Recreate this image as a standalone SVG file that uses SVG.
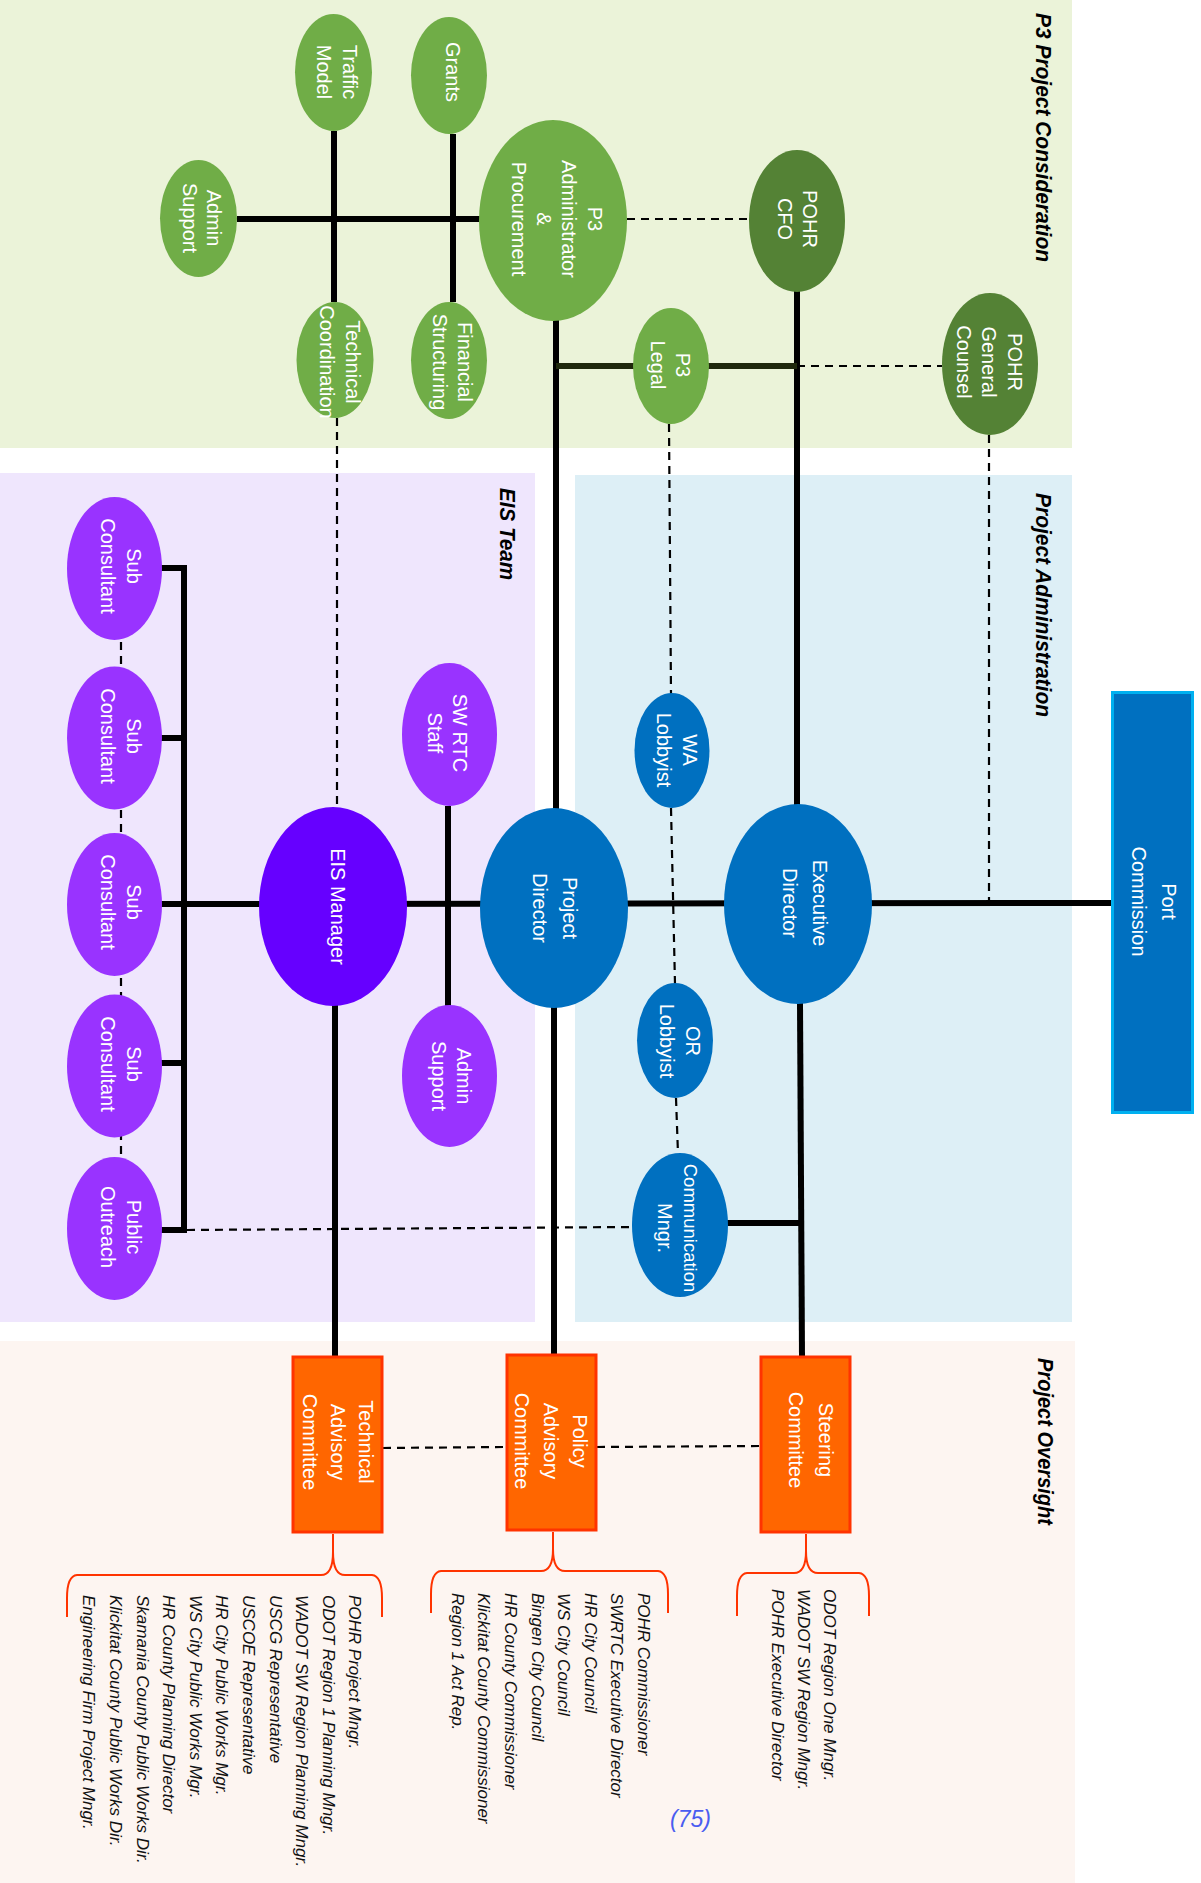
<svg xmlns="http://www.w3.org/2000/svg" width="1201" height="1883" viewBox="0 0 1201 1883">
<style>
.nt{fill:#fff;font-family:"Liberation Sans",Arial,sans-serif;font-size:20px;text-anchor:middle;dominant-baseline:central}
.ttl{fill:#000;font-family:"Liberation Sans",Arial,sans-serif;font-size:22px;font-weight:bold;font-style:italic}
.lst{fill:#111;font-family:"Liberation Sans",Arial,sans-serif;font-size:17px;font-style:italic}
.thick{stroke:#000;stroke-width:6;fill:none}
.dash{stroke:#000;stroke-width:2.2;stroke-dasharray:8 6;fill:none}
.brace{stroke:#ff3300;stroke-width:2;fill:none}
.lg{fill:#70ad47}.dg{fill:#548235}.pu{fill:#9933ff}.bl{fill:#0070c0}
.cm{fill:#ff6600;stroke:#ff3300;stroke-width:3}
</style>
<rect width="1201" height="1883" fill="#fff"/>
<!-- section backgrounds -->
<rect x="0" y="0" width="1072" height="448" fill="#ebf3d9"/>
<rect x="0" y="473" width="535" height="849" fill="#efe6fd"/>
<rect x="575" y="475" width="497" height="847" fill="#ddeff6"/>
<rect x="0" y="1341" width="1075" height="542" fill="#fdf5f1"/>
<text class="ttl" transform="translate(1036,13) rotate(90)" textLength="249" lengthAdjust="spacingAndGlyphs">P3 Project Consideration</text>
<text class="ttl" transform="translate(1036,493) rotate(90)" textLength="224" lengthAdjust="spacingAndGlyphs">Project Administration</text>
<text class="ttl" transform="translate(500,488) rotate(90)" textLength="92" lengthAdjust="spacingAndGlyphs">EIS Team</text>
<text class="ttl" transform="translate(1038,1358) rotate(90)" textLength="167" lengthAdjust="spacingAndGlyphs">Project Oversight</text>

<g id="connectors">
<line class="thick" x1="237" y1="219" x2="480" y2="219"/>
<line class="thick" x1="334" y1="131" x2="334" y2="302"/>
<line class="thick" x1="453" y1="134" x2="453" y2="302"/>
<line class="dash" x1="627" y1="219" x2="749" y2="219"/>
<line class="thick" x1="556" y1="320" x2="556" y2="809"/>
<line class="thick" x1="797" y1="291" x2="797" y2="805"/>
<line stroke="#1f280c" stroke-width="6" x1="556" y1="366" x2="797" y2="366"/>
<line class="dash" x1="797" y1="366" x2="942" y2="366"/>
<line class="dash" x1="337" y1="418" x2="337" y2="808"/>
<line class="dash" x1="669" y1="424" x2="671" y2="694"/>
<line class="dash" x1="671" y1="808" x2="675" y2="984"/>
<line class="dash" x1="676" y1="1098" x2="678" y2="1154"/>
<line class="dash" x1="989" y1="435" x2="989" y2="903"/>
<line class="dash" x1="121" y1="600" x2="121" y2="1200" stroke-dasharray="7 7"/>
<line class="thick" x1="184" y1="565" x2="184" y2="1233"/>
<line class="thick" x1="160" y1="568" x2="187" y2="568"/>
<line class="thick" x1="160" y1="738" x2="187" y2="738"/>
<line class="thick" x1="160" y1="1063" x2="187" y2="1063"/>
<line class="thick" x1="160" y1="1230" x2="187" y2="1230"/>
<line class="thick" x1="160" y1="904" x2="1112" y2="903"/>
<line class="thick" x1="448" y1="806" x2="448" y2="1006"/>
<line class="thick" x1="335" y1="1005" x2="335" y2="1357"/>
<line class="thick" x1="554" y1="1007" x2="554" y2="1355"/>
<line class="thick" x1="800" y1="1003" x2="802" y2="1357"/>
<line class="thick" x1="727" y1="1223" x2="801" y2="1223"/>
<line class="dash" x1="187" y1="1230" x2="633" y2="1227" stroke-dasharray="6 4"/>
<line class="dash" x1="383" y1="1448" x2="506" y2="1447" stroke-dasharray="7 5"/>
<line class="dash" x1="597" y1="1447" x2="760" y2="1446" stroke-dasharray="7 5"/>
<path class="brace" d="M333 1534 V1552 Q333 1575 321 1575 H77 Q67 1576 67 1598 V1617 M333 1552 Q333 1575 345 1575 H372 Q382 1576 382 1598 V1617"/>
<path class="brace" d="M553 1532 V1549 Q553 1571 541 1571 H441 Q431 1572 431 1594 V1613 M553 1549 Q553 1571 565 1571 H658 Q668 1572 668 1594 V1613"/>
<path class="brace" d="M806 1534 V1551 Q806 1573 794 1573 H747 Q737 1574 737 1596 V1616 M806 1551 Q806 1573 818 1573 H859 Q869 1574 869 1596 V1616"/>
</g>

<g id="traffic-model"><ellipse class="lg" cx="333.5" cy="72.5" rx="38.5" ry="58.5"/>
<text class="nt" transform="translate(336.5,72) rotate(90)"><tspan x="0" y="-13">Traffic</tspan><tspan x="0" y="13">Model</tspan></text></g>
<g id="grants"><ellipse class="lg" cx="449" cy="75.5" rx="38" ry="58.5"/>
<text class="nt" transform="translate(452.5,72) rotate(90)"><tspan x="0" y="0">Grants</tspan></text></g>
<g id="admin-support-p3"><ellipse class="lg" cx="198.5" cy="218.5" rx="38.5" ry="58.5"/>
<text class="nt" transform="translate(201.5,218) rotate(90)"><tspan x="0" y="-12">Admin</tspan><tspan x="0" y="12">Support</tspan></text></g>
<g id="p3-administrator"><ellipse class="lg" cx="553" cy="220.5" rx="74" ry="100.5"/>
<text class="nt" transform="translate(556.5,219) rotate(90)"><tspan x="0" y="-38">P3</tspan><tspan x="0" y="-12.6">Administrator</tspan><tspan x="0" y="12.6">&amp;</tspan><tspan x="0" y="38">Procurement</tspan></text></g>
<g id="pohr-cfo"><ellipse class="dg" cx="797" cy="221" rx="48" ry="71"/>
<text class="nt" transform="translate(797,219) rotate(90)"><tspan x="0" y="-12.5">POHR</tspan><tspan x="0" y="12.5">CFO</tspan></text></g>
<g id="technical-coordination"><ellipse class="lg" cx="335" cy="360" rx="38.5" ry="58"/>
<text class="nt" transform="translate(340,362) rotate(90)"><tspan x="0" y="-12.7">Technical</tspan><tspan x="0" y="12.7">Coordination</tspan></text></g>
<g id="financial-structuring"><ellipse class="lg" cx="449" cy="360.5" rx="38" ry="58.5"/>
<text class="nt" transform="translate(452,362) rotate(90)"><tspan x="0" y="-12.5">Financial</tspan><tspan x="0" y="12.5">Structuring</tspan></text></g>
<g id="p3-legal"><ellipse class="lg" cx="671" cy="366" rx="38" ry="58"/>
<text class="nt" transform="translate(670,365) rotate(90)"><tspan x="0" y="-12.5">P3</tspan><tspan x="0" y="12.5">Legal</tspan></text></g>
<g id="pohr-general-counsel"><ellipse class="dg" cx="990" cy="364" rx="48" ry="71"/>
<text class="nt" transform="translate(989,362) rotate(90)"><tspan x="0" y="-25.5">POHR</tspan><tspan x="0" y="0">General</tspan><tspan x="0" y="25.5">Counsel</tspan></text></g>

<g id="sub-consultant-1"><ellipse class="pu" cx="114.5" cy="568.5" rx="47.5" ry="71.5"/>
<text class="nt" transform="translate(120.5,566) rotate(90)"><tspan x="0" y="-13">Sub</tspan><tspan x="0" y="13">Consultant</tspan></text></g>
<g id="sub-consultant-2"><ellipse class="pu" cx="114.5" cy="738" rx="47.5" ry="71.5"/>
<text class="nt" transform="translate(120.5,736) rotate(90)"><tspan x="0" y="-13">Sub</tspan><tspan x="0" y="13">Consultant</tspan></text></g>
<g id="sub-consultant-3"><ellipse class="pu" cx="114.5" cy="904.5" rx="47.5" ry="71.5"/>
<text class="nt" transform="translate(120.5,902) rotate(90)"><tspan x="0" y="-13">Sub</tspan><tspan x="0" y="13">Consultant</tspan></text></g>
<g id="sub-consultant-4"><ellipse class="pu" cx="114.5" cy="1066" rx="47.5" ry="71.5"/>
<text class="nt" transform="translate(120.5,1064) rotate(90)"><tspan x="0" y="-13">Sub</tspan><tspan x="0" y="13">Consultant</tspan></text></g>
<g id="public-outreach"><ellipse class="pu" cx="114.5" cy="1228.5" rx="47.5" ry="71.5"/>
<text class="nt" transform="translate(120.5,1227) rotate(90)"><tspan x="0" y="-13">Public</tspan><tspan x="0" y="13">Outreach</tspan></text></g>
<g id="sw-rtc-staff"><ellipse class="pu" cx="449.5" cy="734.5" rx="47.5" ry="71.5"/>
<text class="nt" transform="translate(447.5,733) rotate(90)"><tspan x="0" y="-12.5">SW RTC</tspan><tspan x="0" y="12.5">Staff</tspan></text></g>
<g id="admin-support-eis"><ellipse class="pu" cx="449.5" cy="1076" rx="47.5" ry="71"/>
<text class="nt" transform="translate(451.5,1076) rotate(90)"><tspan x="0" y="-12.5">Admin</tspan><tspan x="0" y="12.5">Support</tspan></text></g>
<g id="eis-manager"><ellipse fill="#6600ff" cx="333" cy="906.5" rx="74" ry="99.5"/>
<text class="nt" transform="translate(338,906.5) rotate(90)"><tspan x="0" y="0">EIS Manager</tspan></text></g>

<g id="project-director"><ellipse class="bl" cx="554" cy="908" rx="74" ry="100"/>
<text class="nt" transform="translate(555,908) rotate(90)"><tspan x="0" y="-14.7">Project</tspan><tspan x="0" y="14.7">Director</tspan></text></g>
<g id="executive-director"><ellipse class="bl" cx="798" cy="904" rx="74" ry="100"/>
<text class="nt" transform="translate(805,903) rotate(90)"><tspan x="0" y="-14.7">Executive</tspan><tspan x="0" y="14.7">Director</tspan></text></g>
<g id="wa-lobbyist"><ellipse class="bl" cx="672" cy="750.5" rx="37.5" ry="57.5"/>
<text class="nt" transform="translate(677,750) rotate(90)"><tspan x="0" y="-13">WA</tspan><tspan x="0" y="13">Lobbyist</tspan></text></g>
<g id="or-lobbyist"><ellipse class="bl" cx="675" cy="1040.5" rx="38" ry="57.5"/>
<text class="nt" transform="translate(679.5,1041) rotate(90)"><tspan x="0" y="-13">OR</tspan><tspan x="0" y="13">Lobbyist</tspan></text></g>
<g id="communication-mngr"><ellipse class="bl" cx="680" cy="1225" rx="48" ry="72"/>
<text class="nt" transform="translate(678,1228) rotate(90)"><tspan x="0" y="-13" font-size="18.5">Communication</tspan><tspan x="0" y="13">Mngr.</tspan></text></g>
<g id="port-commission"><rect x="1112.5" y="692.5" width="80" height="420" fill="#0070c0" stroke="#00b0f0" stroke-width="3"/>
<text class="nt" transform="translate(1154,901.5) rotate(90)"><tspan x="0" y="-14.7">Port</tspan><tspan x="0" y="14.7">Commission</tspan></text></g>

<g id="technical-advisory-committee"><rect class="cm" x="293" y="1357" width="89" height="175"/>
<text class="nt" transform="translate(338.3,1442) rotate(90)"><tspan x="0" y="-28">Technical</tspan><tspan x="0" y="0">Advisory</tspan><tspan x="0" y="28">Committee</tspan></text>
<text class="lst" transform="translate(349.3,1595) rotate(90)"><tspan x="0" y="0">POHR Project Mngr.</tspan><tspan x="0" dy="26.6">ODOT Region 1 Planning Mngr.</tspan><tspan x="0" dy="26.6">WADOT SW Region Planning Mngr.</tspan><tspan x="0" dy="26.6">USCG Representative</tspan><tspan x="0" dy="26.6">USCOE Representative</tspan><tspan x="0" dy="26.6">HR City Public Works Mgr.</tspan><tspan x="0" dy="26.6">WS City Public Works Mgr.</tspan><tspan x="0" dy="26.6">HR County Planning Director</tspan><tspan x="0" dy="26.6">Skamania County Public Works Dir.</tspan><tspan x="0" dy="26.6">Klickitat County Public Works Dir.</tspan><tspan x="0" dy="26.6">Engineering Firm Project Mngr.</tspan></text></g>
<g id="policy-advisory-committee"><rect class="cm" x="507" y="1355" width="89" height="175"/>
<text class="nt" transform="translate(551,1441) rotate(90)"><tspan x="0" y="-29">Policy</tspan><tspan x="0" y="0">Advisory</tspan><tspan x="0" y="29">Committee</tspan></text>
<text class="lst" transform="translate(638,1593) rotate(90)"><tspan x="0" y="0">POHR Commissioner</tspan><tspan x="0" dy="26.6">SWRTC Executive Director</tspan><tspan x="0" dy="26.6">HR City Council</tspan><tspan x="0" dy="26.6">WS City Council</tspan><tspan x="0" dy="26.6">Bingen City Council</tspan><tspan x="0" dy="26.6">HR County Commissioner</tspan><tspan x="0" dy="26.6">Klickitat County Commissioner</tspan><tspan x="0" dy="26.6">Region 1 Act Rep.</tspan></text></g>
<g id="steering-committee"><rect class="cm" x="761" y="1357" width="89" height="175"/>
<text class="nt" transform="translate(810.5,1440) rotate(90)"><tspan x="0" y="-15">Steering</tspan><tspan x="0" y="15">Committee</tspan></text>
<text class="lst" transform="translate(824,1589) rotate(90)"><tspan x="0" y="0">ODOT Region One Mngr.</tspan><tspan x="0" dy="26">WADOT SW Region Mngr.</tspan><tspan x="0" dy="26">POHR Executive Director</tspan></text></g>
<text x="670" y="1827" fill="#4a5cf0" font-family="'Liberation Sans',Arial,sans-serif" font-size="23" font-style="italic">(75)</text>
</svg>
